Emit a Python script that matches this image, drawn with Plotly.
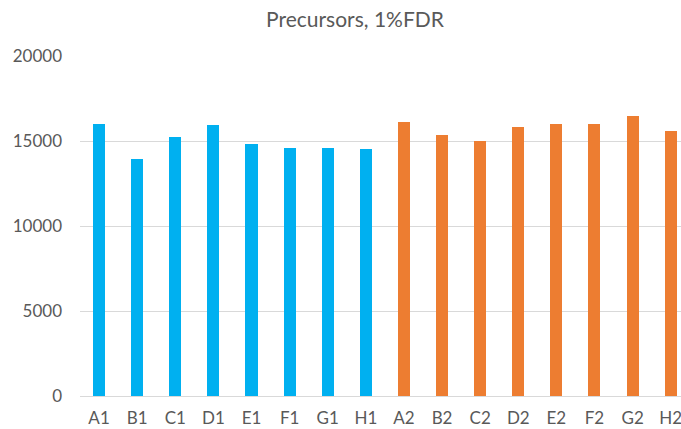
import plotly.graph_objects as go

# Precursor identifications at 1% FDR per sample
samples_1 = ["A1", "B1", "C1", "D1", "E1", "F1", "G1", "H1"]
values_1 = [16000, 13950, 15240, 15940, 14820, 14590, 14590, 14530]

samples_2 = ["A2", "B2", "C2", "D2", "E2", "F2", "G2", "H2"]
values_2 = [16120, 15330, 15000, 15800, 15980, 15980, 16490, 15590]

y_ticks = [0, 5000, 10000, 15000, 20000]

BLUE = "#00B0F0"
ORANGE = "#ED7D31"
GRID = "#D9D9D9"
TEXT = "#595959"
FONT = "Lato"

categories = samples_1 + samples_2

fig = go.Figure()
fig.add_trace(go.Bar(x=samples_1, y=values_1, marker=dict(color=BLUE, line_width=0),
                     width=0.315, showlegend=False))
fig.add_trace(go.Bar(x=samples_2, y=values_2, marker=dict(color=ORANGE, line_width=0),
                     width=0.315, showlegend=False))

fig.update_layout(
    width=681, height=429,
    margin=dict(l=80, r=0, t=56, b=33),
    paper_bgcolor="white", plot_bgcolor="white",
    font=dict(family=FONT, size=17, color=TEXT),
    title=dict(text="Precursors, 1%FDR", x=355 / 681, xanchor="center",
               y=1 - 20 / 429, yanchor="middle",
               font=dict(family=FONT, size=21, color=TEXT)),
    bargap=0, barmode="overlay",
    xaxis=dict(categoryorder="array", categoryarray=categories,
               range=[-0.5, 15.27], showgrid=False, showline=True,
               linecolor=GRID, linewidth=1, ticks="", ticklabelstandoff=7,
               tickfont=dict(family=FONT, size=17, color=TEXT)),
    yaxis=dict(range=[0, 20000], tickvals=y_ticks, ticktext=[str(v) for v in y_ticks],
               showgrid=True, gridcolor=GRID, gridwidth=1, zeroline=False,
               showline=False, ticks="", ticklabelstandoff=17,
               tickfont=dict(family=FONT, size=17, color=TEXT)),
)

fig.write_html("out.html")
